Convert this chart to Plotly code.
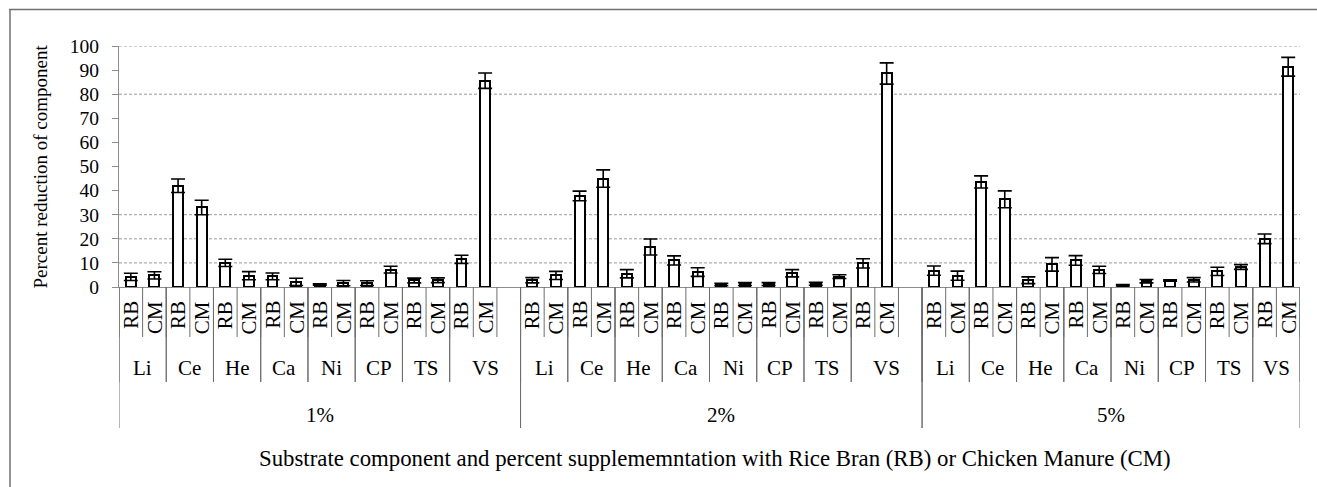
import plotly.graph_objects as go

# ---------------- data ----------------
groups = ["1%", "2%", "5%"]
components = ["Li", "Ce", "He", "Ca", "Ni", "CP", "TS", "VS"]
supplements = ["RB", "CM"]

rb_1 = [4.2, 42.0, 10.0, 4.4, 1.0, 1.6, 2.7, 11.5]
rb_1_err = [1.5, 2.8, 1.5, 1.4, 0.3, 1.0, 1.0, 1.7]
cm_1 = [4.8, 33.0, 4.7, 2.1, 1.6, 7.2, 2.8, 85.6]
cm_1_err = [1.5, 3.0, 1.7, 1.5, 1.1, 1.4, 1.0, 3.2]

rb_2 = [2.8, 37.8, 5.5, 11.0, 1.0, 1.2, 1.3, 9.8]
rb_2_err = [1.1, 2.0, 1.7, 1.9, 0.5, 0.6, 0.6, 1.9]
cm_2 = [4.8, 45.0, 16.6, 6.2, 1.2, 5.7, 4.3, 88.6]
cm_2_err = [1.7, 3.6, 3.3, 1.8, 0.6, 1.5, 0.8, 4.4]

rb_5 = [6.8, 43.6, 2.8, 11.0, 0.7, 2.7, 6.5, 20.0]
rb_5_err = [1.9, 2.5, 1.4, 2.0, 0.3, 0.3, 1.7, 2.0]
cm_5 = [4.7, 36.4, 9.4, 7.1, 2.4, 3.0, 8.3, 91.4]
cm_5_err = [1.9, 3.5, 2.8, 1.5, 0.7, 0.9, 1.0, 3.9]

y_ticks = [0, 10, 20, 30, 40, 50, 60, 70, 80, 90, 100]
visible_grid = [10, 20, 30, 80, 100]

y_title = "Percent reduction of component"
x_title = ("Substrate component and percent supplememntation with "
           "Rice Bran (RB) or Chicken Manure (CM)")

values = {"1%": (rb_1, rb_1_err, cm_1, cm_1_err),
          "2%": (rb_2, rb_2_err, cm_2, cm_2_err),
          "5%": (rb_5, rb_5_err, cm_5, cm_5_err)}

# ---------------- layout of category slots ----------------
FONT = "Liberation Serif"
FS_TICK = 19.5
FS_CAT = 21
FS_XT = 22.8
FS_YT = 19
W, H = 1317, 487
ML, MR, MT, MB = 119, 17, 46, 200
PH = H - MT - MB


def py(pix):
    """pixel row -> paper y"""
    return (H - MB - pix) / PH


def px(pix):
    return (pix - ML) / (W - ML - MR)


xs, ys, errs = [], [], []
sub_labels = []      # (slot, text)
comp_spans = []      # (start, end, text)
group_spans = []     # (start, end, text)
slot = 0
for gi, g in enumerate(groups):
    rb, rbe, cm, cme = values[g]
    g_start = slot
    for ci, c in enumerate(components):
        c_start = slot
        for si, (v, e) in enumerate([(rb[ci], rbe[ci]), (cm[ci], cme[ci])]):
            xs.append(slot)
            ys.append(v)
            errs.append(e)
            sub_labels.append((slot, supplements[si]))
            slot += 1
        if ci == len(components) - 1 and gi < len(groups) - 1:
            slot += 1  # blank category (as in the original Excel chart)
        comp_spans.append((c_start, slot, c))
    group_spans.append((g_start, slot, g))
n_slots = slot

fig = go.Figure()
fig.add_trace(go.Bar(
    x=xs, y=ys, width=0.42,
    marker=dict(color="white", line=dict(color="black", width=2)),
    error_y=dict(type="data", array=errs, visible=True,
                 color="black", thickness=1.6, width=7),
    showlegend=False,
))

shapes = []
for gv in visible_grid:
    shapes.append(dict(type="line", xref="paper", yref="y", x0=0, x1=1,
                       y0=gv, y1=gv, layer="below",
                       line=dict(color="#9a9a9a", width=1, dash="3px,2px")))

LINE_C = "#6e6e6e"
for b in range(n_slots + 1):
    shapes.append(dict(type="line", xref="x", yref="paper",
                       x0=b - 0.5, x1=b - 0.5, y0=0, y1=py(337),
                       line=dict(color=LINE_C, width=1)))
for s, e, _ in comp_spans:
    for b in (s, e):
        shapes.append(dict(type="line", xref="x", yref="paper",
                           x0=b - 0.5, x1=b - 0.5, y0=0, y1=py(382),
                           line=dict(color=LINE_C, width=1)))
for s, e, _ in group_spans:
    for b in (s, e):
        shapes.append(dict(type="line", xref="x", yref="paper",
                           x0=b - 0.5, x1=b - 0.5, y0=0, y1=py(428),
                           line=dict(color=LINE_C, width=1)))
# chart-area frame: only its top and left edges are inside the picture
BORDER = dict(color="#707070", width=1.5)
shapes.append(dict(type="line", xref="paper", yref="paper",
                   x0=px(9), x1=px(1317), y0=py(9.5), y1=py(9.5),
                   line=BORDER))
shapes.append(dict(type="line", xref="paper", yref="paper",
                   x0=px(10), x1=px(10), y0=py(9), y1=py(487),
                   line=BORDER))

annotations = []
for s, t in sub_labels:
    annotations.append(dict(x=s, y=py(299), xref="x", yref="paper",
                            text=t, showarrow=False, textangle=-90,
                            font=dict(family=FONT, size=FS_CAT, color="black"),
                            xanchor="center", yanchor="top"))
for s, e, t in comp_spans:
    annotations.append(dict(x=(s + e - 1) / 2, y=py(368), xref="x",
                            yref="paper", text=t, showarrow=False,
                            font=dict(family=FONT, size=FS_CAT, color="black"),
                            xanchor="center", yanchor="middle"))
for s, e, t in group_spans:
    annotations.append(dict(x=(s + e - 1) / 2, y=py(415), xref="x",
                            yref="paper", text=t, showarrow=False,
                            font=dict(family=FONT, size=FS_CAT, color="black"),
                            xanchor="center", yanchor="middle"))
annotations.append(dict(x=px(715), y=py(458), xref="paper", yref="paper",
                        text=x_title, showarrow=False,
                        font=dict(family=FONT, size=FS_XT, color="black"),
                        xanchor="center", yanchor="middle"))
annotations.append(dict(x=px(40), y=0.5, xref="paper", yref="paper",
                        text=y_title, showarrow=False, textangle=-90,
                        font=dict(family=FONT, size=FS_YT, color="black"),
                        xanchor="center", yanchor="middle"))

fig.update_layout(
    width=W, height=H,
    margin=dict(l=ML, r=MR, t=MT, b=MB, pad=0),
    paper_bgcolor="white", plot_bgcolor="white",
    shapes=shapes, annotations=annotations,
    bargap=0,
    xaxis=dict(range=[-0.5, n_slots - 0.5], showticklabels=False,
               showgrid=False, zeroline=False, showline=True,
               linecolor="#8c8c8c", linewidth=1, ticks=""),
    yaxis=dict(range=[0, 100], tickvals=y_ticks, showgrid=False,
               zeroline=False, showline=True, linecolor="#8c8c8c",
               linewidth=1, ticks="outside", ticklen=6, tickcolor="#8c8c8c",
               tickfont=dict(family=FONT, size=FS_TICK, color="black"),
               ticklabelstandoff=9),
)

fig.write_html("out.html",
               config={"displayModeBar": False},
               post_script="document.body.style.margin='0';")
